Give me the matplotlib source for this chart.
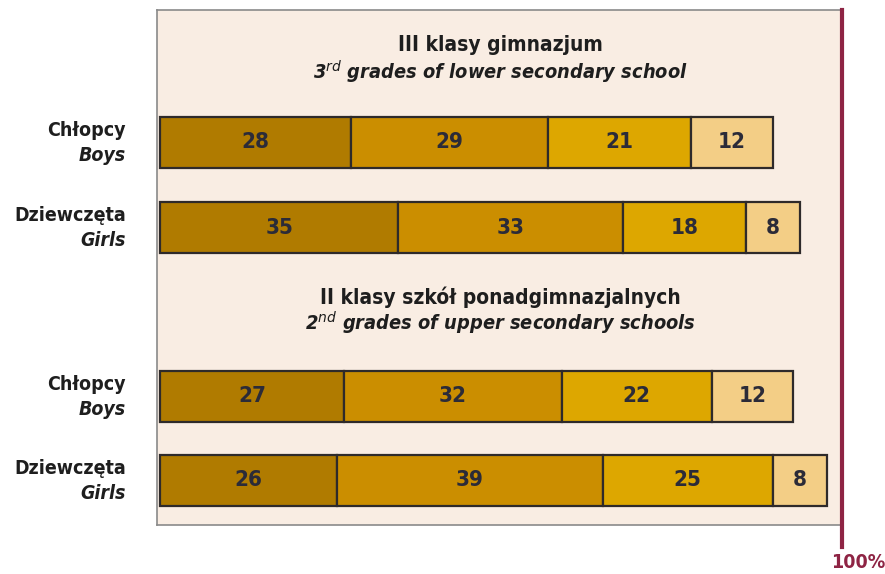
import matplotlib
matplotlib.use("Agg")
import matplotlib.pyplot as plt
from matplotlib import font_manager
from matplotlib.font_manager import FontProperties

ttf = font_manager.fontManager.ttflist

def find_font(weight_bold, italic):
    cands = []
    for f in ttf:
        fn = f.fname.lower()
        if ('narrow' in fn or 'condensed' in fn) and ('sans' in fn):
            isb = 'bold' in fn
            isi = ('italic' in fn) or ('oblique' in fn)
            if isb == weight_bold and isi == italic:
                cands.append(f.fname)
    cands.sort(key=lambda s: (0 if 'liberation' in s.lower() else 1, len(s)))
    return cands[0] if cands else None

def fp(bold=False, italic=False, size=14):
    fn = find_font(bold, italic)
    if fn:
        return FontProperties(fname=fn, size=size)
    return FontProperties(family='DejaVu Sans', weight='bold' if bold else 'normal',
                          style='italic' if italic else 'normal', size=size)

# Data
rows_pl = ["Chłopcy", "Dziewczęta", "Chłopcy", "Dziewczęta"]
rows_en = ["Boys", "Girls", "Boys", "Girls"]
values = [
    [28, 29, 21, 12],
    [35, 33, 18, 8],
    [27, 32, 22, 12],
    [26, 39, 25, 8],
]
colors = ["#B07B00", "#CB8E00", "#DDA700", "#F3CE86"]
group_titles_pl = ["III klasy gimnazjum", "II klasy szkół ponadgimnazjalnych"]
group_titles_en = ["3$^{rd}$ grades of lower secondary school",
                   "2$^{nd}$ grades of upper secondary schools"]

W, H = 885, 574
fig = plt.figure(figsize=(W/100, H/100), dpi=100)
fig.patch.set_facecolor("white")

x0, x1, y0, y1 = 157, 843, 10, 525
ax = fig.add_axes([x0/W, 1 - y1/H, (x1-x0)/W, (y1-y0)/H])
ax.set_facecolor("#F9EDE3")
ppu = 6.81
ax.set_xlim(-(160-x0)/ppu, (x1-160)/ppu)
ax.set_ylim(y1, y0)

row_y = [142.5, 227.5, 396.5, 480.5]
bar_h = 51
title_y = [(45, 72), (297, 323)]

num_fp = fp(bold=True, size=16)
lab_fp = fp(bold=True, size=14)
lab_fp_i = fp(bold=True, italic=True, size=14)

for i, vals in enumerate(values):
    left = 0
    for j, v in enumerate(vals):
        ax.barh(row_y[i], v, left=left, height=bar_h, color=colors[j],
                edgecolor="#2E2A2A", linewidth=1.6, zorder=3)
        ax.text(left + v/2, row_y[i], str(v), ha="center", va="center",
                fontproperties=num_fp, color="#2B2B38", zorder=4)
        left += v
    fig.text(126/W, 1 - (row_y[i]-12)/H, rows_pl[i], ha="right", va="center",
             fontproperties=lab_fp, color="#1E1E1E")
    fig.text(126/W, 1 - (row_y[i]+13)/H, rows_en[i], ha="right", va="center",
             fontproperties=lab_fp_i, color="#1E1E1E")

for k in range(2):
    ax.text(50, title_y[k][0], group_titles_pl[k], ha="center", va="center",
            fontproperties=fp(bold=True, size=15), color="#1E1E1E")
    ax.text(50, title_y[k][1], group_titles_en[k], ha="center", va="center",
            fontproperties=fp(bold=True, italic=True, size=14.3), color="#1E1E1E")

ax.set_xticks([])
ax.set_yticks([])
for s in ["top", "left", "bottom"]:
    ax.spines[s].set_color("#8A8A8A")
    ax.spines[s].set_linewidth(1.2)
ax.spines["right"].set_visible(False)

ax.plot([100.2, 100.2], [y0, 547], color="#8E2444", linewidth=3, clip_on=False, zorder=5)
fig.text(885/W, 1 - 562/H, "100%", ha="right", va="center",
         fontproperties=fp(bold=True, size=14), color="#8E2444")

fig.savefig("out.png", dpi=100)
